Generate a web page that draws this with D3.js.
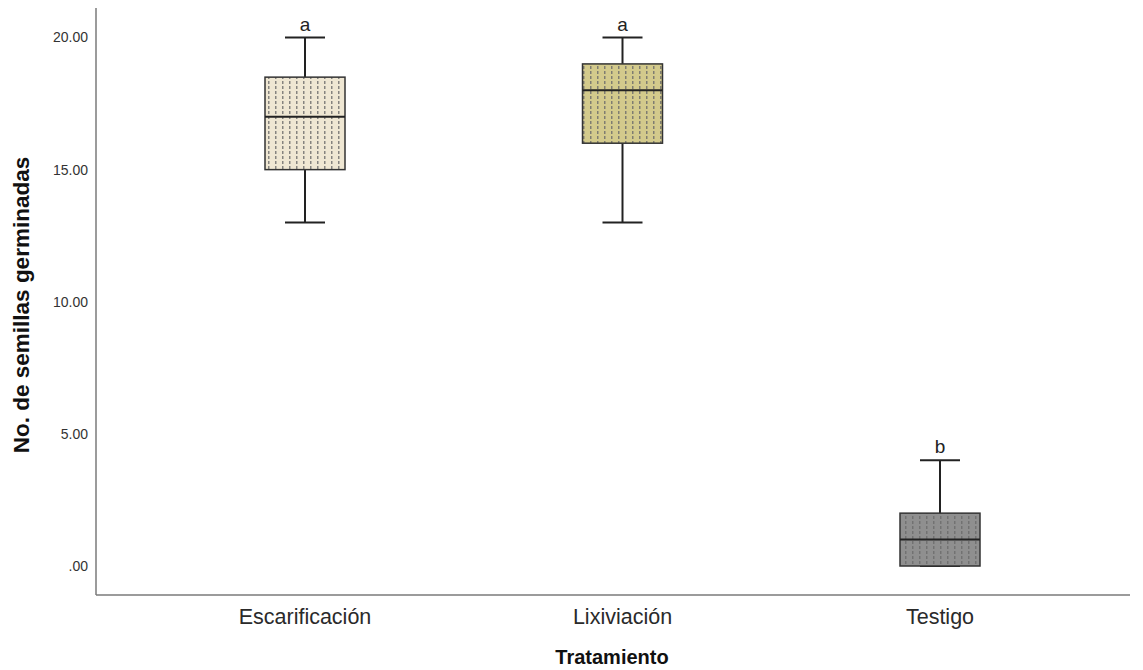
<!DOCTYPE html>
<html>
<head>
<meta charset="utf-8">
<script src="https://cdn.jsdelivr.net/npm/d3@7/dist/d3.min.js"></script>
<style>
  html, body { margin: 0; padding: 0; background: #fff; }
  svg { display: block; }
</style>
</head>
<body>
<svg id="chart" width="1143" height="670"></svg>
<script>
// Germinated seeds per treatment: five-number summaries
const categories = ["Escarificación", "Lixiviación", "Testigo"];
const whiskerLow  = [13, 13, 0];
const q1          = [15, 16, 0];
const median      = [17, 18, 1];
const q3          = [18.5, 19, 2];
const whiskerHigh = [20, 20, 4];
const groupLetters = ["a", "a", "b"];
const fills = ["#efe7d3", "#d3ca8c", "#8f8f8f"];
const yTicks = [0, 5, 10, 15, 20];
const yTickLabels = [".00", "5.00", "10.00", "15.00", "20.00"];

const svg = d3.select("#chart");
const font = "'Liberation Sans', Arial, sans-serif";

const x = d3.scalePoint().domain(categories).range([305, 940]);
const y = d3.scaleLinear().domain([0, 20]).range([566, 37.5]);

const boxW = 80, capW = 40;

// Dotted hatch patterns for each box
const defs = svg.append("defs");
fills.forEach((c, i) => {
  const p = defs.append("pattern")
    .attr("id", "pat" + i)
    .attr("patternUnits", "userSpaceOnUse")
    .attr("width", 7).attr("height", 5)
    .attr("x", 1).attr("y", 0);
  p.append("rect").attr("width", 7).attr("height", 5).attr("fill", c);
  p.append("rect").attr("x", 1).attr("y", 1).attr("width", 1.5).attr("height", 3)
    .attr("fill", "#6a6a6a").attr("opacity", 0.8);
});

// Axes
svg.append("line").attr("x1", 96).attr("x2", 96).attr("y1", 8).attr("y2", 595)
  .attr("stroke", "#7a7a7a").attr("stroke-width", 1.5);
svg.append("line").attr("x1", 96).attr("x2", 1130).attr("y1", 595).attr("y2", 595)
  .attr("stroke", "#7a7a7a").attr("stroke-width", 1.5);

// Y tick labels
svg.append("g").selectAll("text").data(yTicks).join("text")
  .attr("x", 88).attr("y", d => y(d))
  .attr("dy", "0.35em")
  .attr("text-anchor", "end")
  .attr("font-family", font).attr("font-size", 14).attr("fill", "#333")
  .text((d, i) => yTickLabels[i]);

// Category labels
svg.append("g").selectAll("text").data(categories).join("text")
  .attr("x", d => x(d)).attr("y", 624)
  .attr("text-anchor", "middle")
  .attr("font-family", font)
  .attr("font-size", 21.5).attr("fill", "#2a2a2a")
  .text(d => d);

// Axis titles
svg.append("text")
  .attr("x", 612).attr("y", 664)
  .attr("text-anchor", "middle")
  .attr("font-family", font).attr("font-weight", "bold").attr("font-size", 20).attr("fill", "#111")
  .text("Tratamiento");
svg.append("text")
  .attr("transform", "translate(29,305) rotate(-90)")
  .attr("text-anchor", "middle")
  .attr("font-family", font).attr("font-weight", "bold").attr("font-size", 22.5).attr("fill", "#111")
  .text("No. de semillas germinadas");

// Boxes
const g = svg.append("g").selectAll("g").data(categories).join("g");
const line = "#222";
g.append("line")
  .attr("x1", d => x(d)).attr("x2", d => x(d))
  .attr("y1", (d, i) => y(whiskerHigh[i])).attr("y2", (d, i) => y(q3[i]))
  .attr("stroke", line).attr("stroke-width", 2);
g.append("line")
  .attr("x1", d => x(d)).attr("x2", d => x(d))
  .attr("y1", (d, i) => y(q1[i])).attr("y2", (d, i) => y(whiskerLow[i]))
  .attr("stroke", line).attr("stroke-width", 2);
g.append("line")
  .attr("x1", d => x(d) - capW / 2).attr("x2", d => x(d) + capW / 2)
  .attr("y1", (d, i) => y(whiskerHigh[i])).attr("y2", (d, i) => y(whiskerHigh[i]))
  .attr("stroke", line).attr("stroke-width", 2);
g.append("line")
  .attr("x1", d => x(d) - capW / 2).attr("x2", d => x(d) + capW / 2)
  .attr("y1", (d, i) => y(whiskerLow[i])).attr("y2", (d, i) => y(whiskerLow[i]))
  .attr("stroke", line).attr("stroke-width", 2);
g.append("rect")
  .attr("x", d => x(d) - boxW / 2).attr("width", boxW)
  .attr("y", (d, i) => y(q3[i])).attr("height", (d, i) => y(q1[i]) - y(q3[i]))
  .attr("fill", (d, i) => `url(#pat${i})`)
  .attr("stroke", "#333").attr("stroke-width", 1.5);
g.append("line")
  .attr("x1", d => x(d) - boxW / 2).attr("x2", d => x(d) + boxW / 2)
  .attr("y1", (d, i) => y(median[i])).attr("y2", (d, i) => y(median[i]))
  .attr("stroke", line).attr("stroke-width", 2);
g.append("text")
  .attr("x", d => x(d)).attr("y", (d, i) => y(whiskerHigh[i]) - 7)
  .attr("text-anchor", "middle")
  .attr("font-family", font).attr("font-size", 19).attr("fill", "#222")
  .text((d, i) => groupLetters[i]);
</script>
</body>
</html>
